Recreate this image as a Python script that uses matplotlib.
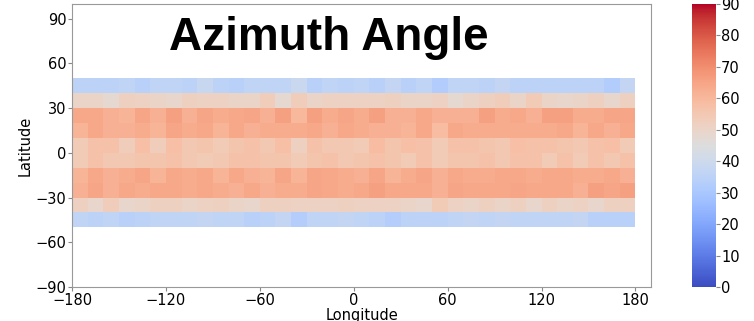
import numpy as np
import matplotlib
matplotlib.use("Agg")
import matplotlib.pyplot as plt

plt.rcParams['font.family'] = ['DejaVu Sans']

# grid cell edges (degrees)
lon_edges = np.arange(-180, 190, 10)
lat_edges = np.arange(-50, 60, 10)

# azimuth angle per cell, rows from lat -50 (bottom) to 50 (top)
row_m50 = [36, 35, 36, 34, 35, 36, 36, 36, 37, 36, 36, 34, 35, 37, 33, 36, 36, 37,
           36, 35, 33, 35, 35, 35, 36, 37, 36, 37, 36, 36, 36, 36, 37, 34, 34, 34]
row_m40 = [52, 49, 53, 49, 50, 52, 52, 50, 51, 52, 50, 49, 52, 52, 51, 51, 51, 52,
           51, 51, 51, 50, 49, 54, 51, 50, 52, 50, 52, 49, 52, 50, 51, 49, 52, 52]
row_m30 = [62, 65, 62, 64, 63, 64, 64, 63, 64, 63, 62, 64, 62, 63, 63, 65, 64, 63,
           64, 66, 64, 64, 64, 62, 65, 64, 64, 64, 65, 64, 64, 64, 62, 66, 65, 66]
row_m20 = [61, 64, 62, 63, 65, 61, 64, 63, 64, 61, 64, 62, 61, 65, 61, 65, 64, 63,
           62, 65, 61, 63, 65, 62, 64, 63, 63, 64, 64, 63, 64, 64, 63, 63, 64, 62]
row_m10 = [54, 57, 55, 55, 56, 56, 57, 55, 54, 55, 57, 57, 56, 56, 54, 56, 57, 55,
           56, 57, 56, 54, 57, 54, 56, 56, 57, 55, 57, 57, 54, 57, 54, 57, 55, 57]
row_p0 = [54, 57, 57, 53, 58, 53, 58, 55, 56, 54, 56, 57, 55, 58, 52, 57, 55, 55,
          54, 59, 56, 58, 57, 54, 57, 57, 56, 55, 58, 57, 57, 56, 55, 57, 58, 54]
row_p10 = [61, 64, 62, 62, 63, 61, 65, 63, 64, 61, 64, 62, 63, 63, 63, 64, 62, 64,
           63, 62, 62, 61, 64, 59, 64, 63, 63, 63, 63, 63, 63, 64, 61, 64, 62, 64]
row_p20 = [64, 64, 62, 61, 65, 62, 66, 62, 65, 63, 64, 65, 62, 66, 60, 66, 63, 65,
           63, 66, 62, 62, 64, 62, 62, 62, 66, 63, 64, 62, 66, 66, 63, 63, 65, 65]
row_p30 = [50, 50, 48, 52, 51, 50, 49, 52, 51, 51, 50, 50, 53, 48, 53, 50, 51, 51,
           51, 51, 52, 50, 50, 51, 48, 50, 52, 53, 50, 54, 50, 49, 50, 52, 49, 52]
row_p40 = [35, 35, 35, 36, 34, 36, 36, 35, 38, 35, 34, 36, 36, 36, 39, 34, 36, 35,
           36, 34, 37, 34, 36, 32, 36, 36, 35, 37, 35, 35, 35, 35, 35, 35, 32, 37]

azimuth = np.array([row_m50, row_m40, row_m30, row_m20, row_m10,
                    row_p0, row_p10, row_p20, row_p30, row_p40])

fig = plt.figure(figsize=(7.54, 3.21), dpi=100)
ax = fig.add_axes([0.0955, 0.106, 0.768, 0.882])
cax = fig.add_axes([0.918, 0.106, 0.031, 0.882])

mesh = ax.pcolormesh(lon_edges, lat_edges, azimuth, cmap="coolwarm", vmin=0, vmax=90)

ax.set_xlim(-180, 190)
ax.set_ylim(-90, 100)
ax.set_xticks([-180, -120, -60, 0, 60, 120, 180])
ax.set_yticks([-90, -60, -30, 0, 30, 60, 90])
ax.tick_params(labelsize=10.5, length=3, color="#888888", pad=1)
for sp in ax.spines.values():
    sp.set_color("#999999")
ax.set_xlabel("Longitude", fontsize=10.5, labelpad=0)
ax.set_ylabel("Latitude", fontsize=10.5, labelpad=2)

fig.text(329 / 754, 1 - 50 / 321, "Azimuth Angle", ha="center", va="baseline",
         fontsize=33, fontweight="bold", family="Liberation Sans")

cb = fig.colorbar(mesh, cax=cax, ticks=np.arange(0, 100, 10))
cb.outline.set_visible(False)
cb.ax.tick_params(labelsize=10.5, length=3, color="#888888", pad=1)

fig.savefig("out.png", dpi=100)
